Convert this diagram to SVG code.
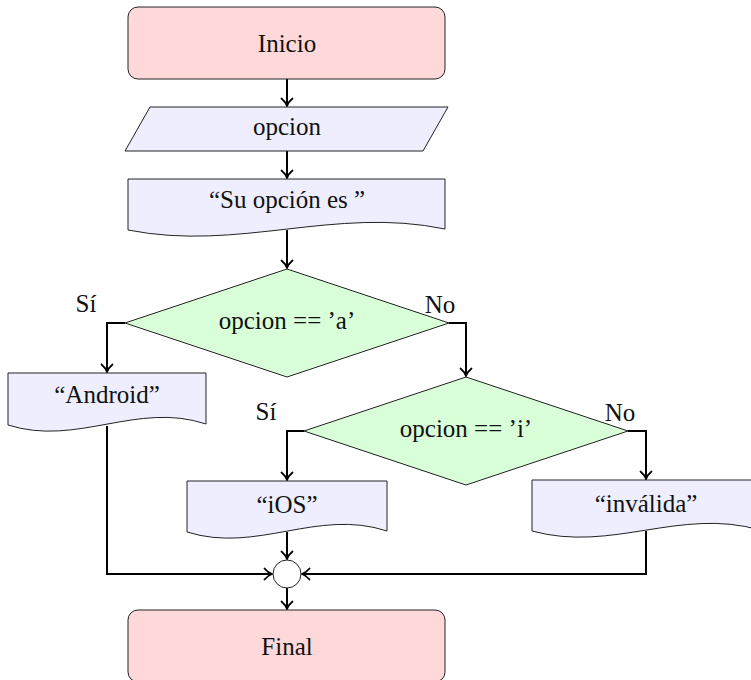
<svg xmlns="http://www.w3.org/2000/svg" width="751" height="680" viewBox="0 0 751 680">
<style>
text{font-family:'Liberation Serif','Times New Roman',serif;font-size:25px;fill:#111;text-anchor:middle}
.term{fill:#ffd9d9;stroke:#222;stroke-width:1}
.io{fill:#eeeeff;stroke:#222;stroke-width:1}
.dec{fill:#d9ffd9;stroke:#222;stroke-width:1}
.join{fill:#fff;stroke:#222;stroke-width:1}
.con{fill:none;stroke:#000;stroke-width:2;marker-end:url(#arr)}
</style>
<defs>
<marker id="arr" markerUnits="userSpaceOnUse" viewBox="-9 -7 11 14" refX="0" refY="0" markerWidth="11" markerHeight="14" orient="auto" overflow="visible">
<path d="M-7.5,-5.5 C-5,-2.5 -1.8,-0.6 0,0 C-1.8,0.6 -5,2.5 -7.5,5.5" fill="none" stroke="#000" stroke-width="1.8" stroke-linecap="round"/>
</marker>
</defs>
<g id="connectors">
<path class="con" d="M287,79 V106"/>
<path class="con" d="M287,151 V178"/>
<path class="con" d="M287,230 V268"/>
<path class="con" d="M125,323 H107 V372"/>
<path class="con" d="M449,323 H466 V376"/>
<path class="con" d="M304,431 H287 V480"/>
<path class="con" d="M628,431 H646 V479"/>
<path class="con" d="M107,426 V574 H272"/>
<path class="con" d="M287,532 V559"/>
<path class="con" d="M646,531 V574 H302"/>
<path class="con" d="M287,588 V609"/>
</g>
<g id="inicio">
<rect class="term" x="128" y="7" width="317" height="72" rx="10"/>
<text x="287" y="52">Inicio</text>
</g>
<g id="leer">
<polygon class="io" points="150,107 448,107 423,151 125,151"/>
<text x="287" y="135">opcion</text>
</g>
<g id="mensaje">
<path class="io" d="M128,179 H445 V229 C334,206 239,252 128,230 Z"/>
<text x="287" y="208">“Su opción es&#160;”</text>
</g>
<g id="decision1">
<polygon class="dec" points="287,269 449,323 287,377 125,323"/>
<text x="287" y="329">opcion == ’a’</text>
<text x="86" y="312">Sí</text>
<text x="440" y="313">No</text>
</g>
<g id="android">
<path class="io" d="M8,373 H206 V424 C137,401 77,447 8,425 Z"/>
<text x="107" y="403">“Android”</text>
</g>
<g id="decision2">
<polygon class="dec" points="466,377 628,431 466,485 304,431"/>
<text x="466" y="437">opcion == ’i’</text>
<text x="266" y="420">Sí</text>
<text x="620" y="421">No</text>
</g>
<g id="ios">
<path class="io" d="M187,481 H387 V531 C317,508 257,554 187,532 Z"/>
<text x="287" y="513">“iOS”</text>
</g>
<g id="invalida">
<path class="io" d="M532,480 H760 V530 C680,507 612,553 532,531 Z"/>
<text x="646" y="512">“inválida”</text>
</g>
<g id="union">
<circle class="join" cx="287" cy="574" r="14"/>
</g>
<g id="final">
<rect class="term" x="128" y="610" width="317" height="72" rx="10"/>
<text x="287" y="655">Final</text>
</g>
</svg>
